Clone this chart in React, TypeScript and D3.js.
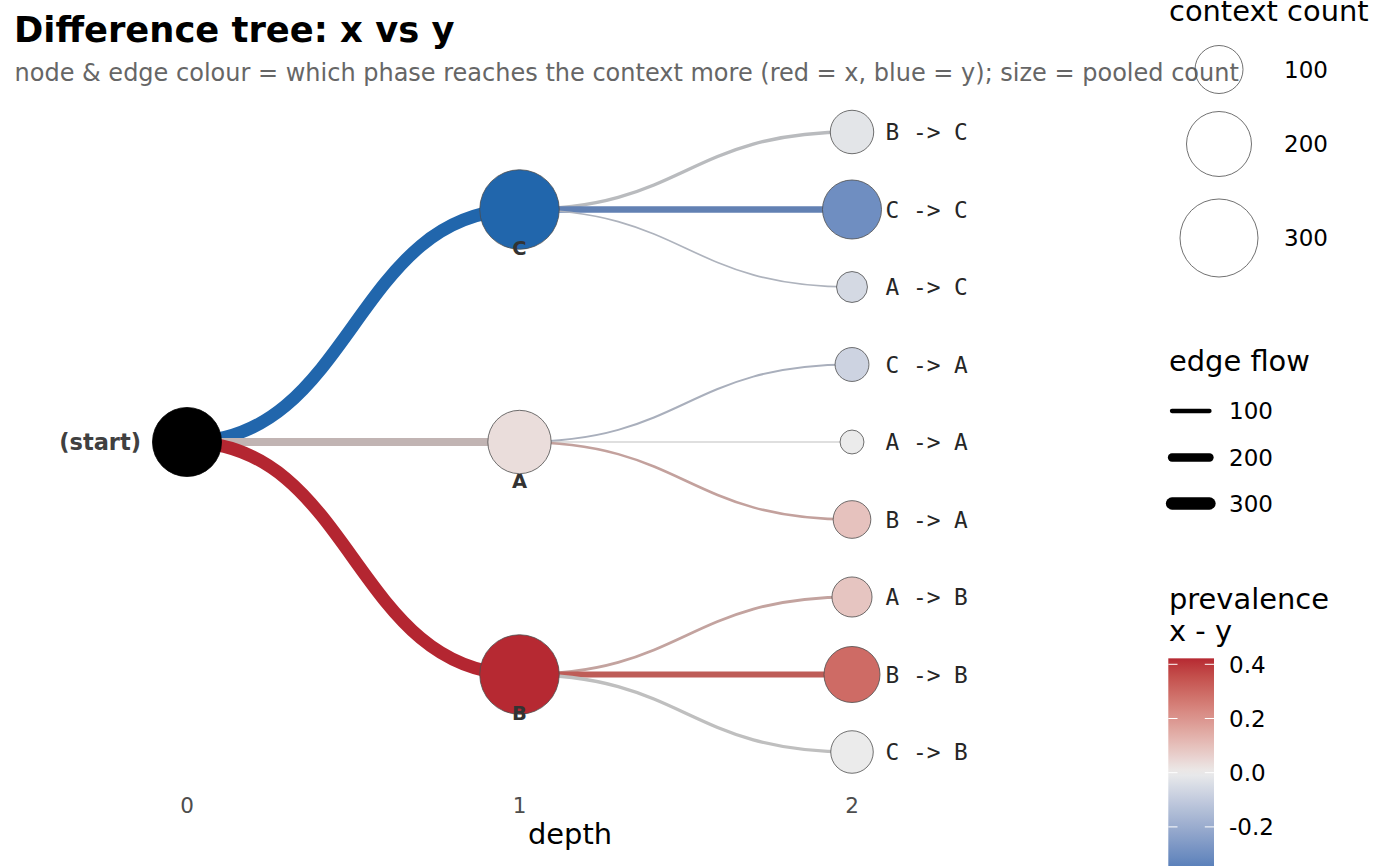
import { useMemo } from "react";
import * as d3 from "d3";

const W = 1400;
const H = 866;

const titleText = "Difference tree: x vs y";
const subtitleText =
  "node & edge colour = which phase reaches the context more (red = x, blue = y); size = pooled count";

const rootLabel = "(start)";
const rootCount = 229;

const depthTicks = [0, 1, 2];

const branchStates = ["C", "A", "B"];
const branchCounts = [313, 189, 313];
const branchDiffs = [-0.442, 0.033, 0.422];

const leafParents = ["C", "C", "C", "A", "A", "A", "B", "B", "B"];
const leafStates = ["B", "C", "A", "C", "A", "B", "A", "B", "C"];
const leafCounts = [79, 161, 34, 43, 17, 56, 65, 143, 75];
const leafDiffs = [-0.02, -0.3, -0.057, -0.074, 0, 0.094, 0.088, 0.295, 0];

const sizeBreaks = [100, 200, 300];
const widthBreaks = [100, 200, 300];
const colourBreaks = [0.4, 0.2, 0.0, -0.2];

const LOW = "#2166ac";
const HIGH = "#b2182b";
const NODE_MID = "#ebebeb";
const EDGE_MID = "#bfbfbf";

const SANS = "DejaVu Sans, sans-serif";
const MONO = "DejaVu Sans Mono, monospace";

type TreeDatum = {
  name: string;
  label: string;
  count: number;
  diff: number | null;
  children?: TreeDatum[];
};

export default function App() {
  const chart = useMemo(() => {
    const data: TreeDatum = {
      name: rootLabel,
      label: rootLabel,
      count: rootCount,
      diff: null,
      children: branchStates.map((s, i) => ({
        name: s,
        label: s,
        count: branchCounts[i],
        diff: branchDiffs[i],
        children: leafStates
          .map((ls, j) => ({ ls, j }))
          .filter(({ j }) => leafParents[j] === s)
          .map(({ ls, j }) => ({
            name: `${ls}${s}`,
            label: `${ls} -> ${s}`,
            count: leafCounts[j],
            diff: leafDiffs[j],
          })),
      })),
    };

    const root = d3.hierarchy(data);
    d3.cluster<TreeDatum>().nodeSize([1, 1]).separation(() => 1)(root);

    const x = d3.scaleLinear().domain([0, 2]).range([187, 852]);
    const y = d3.scaleLinear().domain([-4, 4]).range([132, 752]);
    const r = d3.scalePow().exponent(0.5).domain([0, 400]).range([3.5, 44.5]);
    const w = d3.scaleLinear().domain([0, 400]).range([0.3, 16.3]);

    const allDiffs = [...branchDiffs, ...leafDiffs];
    const lo = d3.min(allDiffs) as number;
    const hi = d3.max(allDiffs) as number;
    const ext = Math.max(Math.abs(lo), Math.abs(hi));

    const fill = d3
      .scaleDiverging(d3.piecewise(d3.interpolateLab, [LOW, NODE_MID, HIGH]))
      .domain([-ext, 0, ext]);
    const edgeCol = d3
      .scaleDiverging(d3.piecewise(d3.interpolateLab, [LOW, EDGE_MID, HIGH]))
      .domain([-ext, 0, ext]);

    const link = d3
      .linkHorizontal<any, d3.HierarchyPointNode<TreeDatum>>()
      .x((d) => x(d.y))
      .y((d) => y(d.x));

    // colourbar
    const barY = d3.scaleLinear().domain([0, 0.4]).range([772.7, 664.3]);
    const stops = d3.range(0, 41).map((i) => {
      const t = i / 40;
      const v = hi + (lo - hi) * t;
      return { offset: t, color: fill(v) };
    });

    return { root: root as d3.HierarchyPointNode<TreeDatum>, x, y, r, w, fill, edgeCol, link, barY, lo, hi, stops };
  }, []);

  const { root, x, y, r, w, fill, edgeCol, link, barY, lo, hi, stops } = chart;
  const nodes = root.descendants();
  const links = root.links();

  return (
    <svg
      width={W}
      height={H}
      style={{ position: "absolute", left: 0, top: 0, background: "#fff" }}
      fontFamily={SANS}
    >
      <defs>
        <linearGradient id="bar" x1="0" y1="0" x2="0" y2="1">
          {stops.map((s, i) => (
            <stop key={i} offset={s.offset} stopColor={s.color} />
          ))}
        </linearGradient>
      </defs>

      <text x={14} y={42.3} fontSize={35.3} fontWeight="bold" fill="#000">
        {titleText}
      </text>
      <text x={14.5} y={81} fontSize={24} fill="#666666">
        {subtitleText}
      </text>

      {/* edges */}
      <g fill="none">
        {links.map((l, i) => (
          <path
            key={i}
            d={link(l) ?? ""}
            stroke={edgeCol(l.target.data.diff ?? 0)}
            strokeWidth={Math.max(1.2, w(l.target.data.count))}
          />
        ))}
      </g>

      {/* nodes */}
      {nodes.map((n, i) => (
        <circle
          key={i}
          cx={x(n.y)}
          cy={y(n.x)}
          r={r(n.data.count)}
          fill={n.depth === 0 ? "#000" : fill(n.data.diff ?? 0)}
          stroke={n.depth === 0 ? "#000" : "#4d4d4d"}
          strokeWidth={0.8}
        />
      ))}

      {/* node labels */}
      {nodes.map((n, i) => {
        const cx = x(n.y);
        const cy = y(n.x);
        if (n.depth === 0)
          return (
            <text key={i} x={141} y={cy + 7.8} fontSize={22.5} fontWeight="bold" fill="#404040" textAnchor="end">
              {n.data.label}
            </text>
          );
        if (n.depth === 1)
          return (
            <text key={i} x={cx} y={cy + 45.5} fontSize={19.5} fontWeight="bold" fill="#333333" textAnchor="middle">
              {n.data.label}
            </text>
          );
        return (
          <text key={i} x={cx + 33.5} y={cy + 8} fontSize={22.8} fontFamily={MONO} fill="#262626" style={{ whiteSpace: "pre" }}>
            {n.data.label}
          </text>
        );
      })}

      {/* x axis */}
      {depthTicks.map((t) => (
        <text key={t} x={x(t)} y={812.5} fontSize={21.5} fill="#4d4d4d" textAnchor="middle">
          {t}
        </text>
      ))}
      <text x={570} y={844} fontSize={28.9} textAnchor="middle" fill="#000">
        depth
      </text>

      {/* size legend */}
      <text x={1169} y={20.5} fontSize={28.9} fill="#000">
        context count
      </text>
      {sizeBreaks.map((b, i) => {
        const cy = [69.5, 144, 238][i];
        return (
          <g key={b}>
            <circle cx={1219} cy={cy} r={r(b)} fill="none" stroke="#4d4d4d" strokeWidth={0.8} />
            <text x={1284} y={cy + 8.2} fontSize={23} fill="#000">
              {b}
            </text>
          </g>
        );
      })}

      {/* edge width legend */}
      <text x={1169} y={371} fontSize={28.9} fill="#000">
        edge flow
      </text>
      {widthBreaks.map((b, i) => {
        const cy = [411, 457.5, 503.5][i];
        return (
          <g key={b}>
            <line x1={1172} x2={1209.5} y1={cy} y2={cy} stroke="#000" strokeWidth={w(b)} strokeLinecap="round" />
            <text x={1229} y={cy + 8.2} fontSize={23} fill="#000">
              {b}
            </text>
          </g>
        );
      })}

      {/* colour legend */}
      <text x={1169} y={609} fontSize={28.9} fill="#000">
        prevalence
      </text>
      <text x={1169} y={641} fontSize={28.9} fill="#000">
        x - y
      </text>
      <rect x={1168.3} y={barY(hi)} width={45.7} height={barY(lo) - barY(hi)} fill="url(#bar)" />
      {colourBreaks.map((b) => (
        <g key={b}>
          <line x1={1168.3} x2={1177.5} y1={barY(b)} y2={barY(b)} stroke="#fff" strokeWidth={1} />
          <line x1={1204.8} x2={1214} y1={barY(b)} y2={barY(b)} stroke="#fff" strokeWidth={1} />
          <text x={1229} y={barY(b) + 8.2} fontSize={23} fill="#000">
            {b.toFixed(1)}
          </text>
        </g>
      ))}
    </svg>
  );
}
